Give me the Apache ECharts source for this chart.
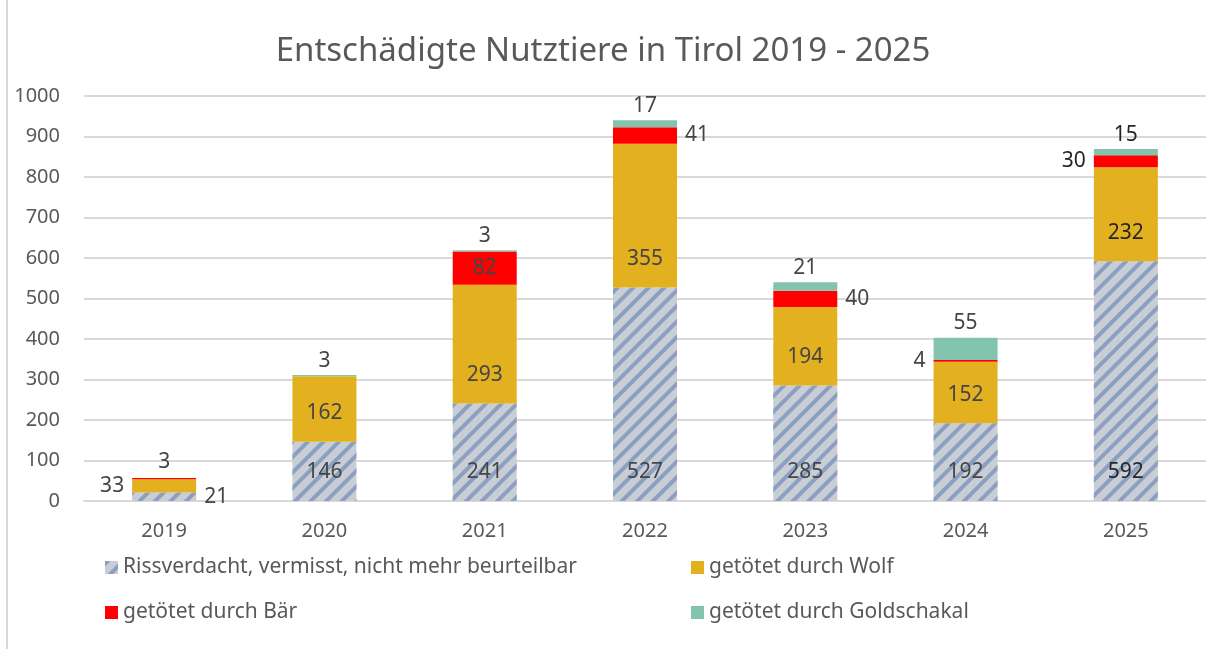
<!DOCTYPE html>
<html>
<head>
<meta charset="utf-8">
<script src="https://cdn.jsdelivr.net/npm/echarts@6/dist/echarts.min.js"></script>
<style>
html, body { margin: 0; padding: 0; background: #fff; }
#chart { width: 1206px; height: 649px; }
</style>
</head>
<body>
<div id="chart"></div>
<script>
// data
var years = ['2019', '2020', '2021', '2022', '2023', '2024', '2025'];
var riss = [21, 146, 241, 527, 285, 192, 592];
var wolf = [33, 162, 293, 355, 194, 152, 232];
var baer = [3, 0, 82, 41, 40, 4, 30];
var schakal = [0, 3, 3, 17, 21, 55, 15];
var seriesNames = [
    'Rissverdacht, vermisst, nicht mehr beurteilbar',
    'getötet durch Wolf',
    'getötet durch Bär',
    'getötet durch Goldschakal'
];

var grey = '#595959';
var font = 'Noto Sans';

// label placement per bar (index = year)
var rissPos = ['right', 'insideBottom', 'insideBottom', 'insideBottom', 'insideBottom', 'insideBottom', 'insideBottom'];
var wolfPos = ['left', 'insideBottom', 'insideBottom', 'insideBottom', 'insideBottom', 'insideBottom', 'insideBottom'];
var baerPos = ['top', null, 'inside', 'right', 'right', 'left', 'left'];

function items(vals, pos, defPos) {
    return vals.map(function (v, i) {
        var p = pos ? pos[i] : defPos;
        var lab = { show: v > 0 && p !== null, position: p };
        if (p === 'insideBottom') lab.distance = 18;
        if (p === 'left' || p === 'right') lab.distance = 8;
        if (i === 6) lab.color = '#262626';
        return { value: v, label: lab };
    });
}

var labelBase = { fontFamily: font, fontSize: 21, color: '#454545' };
var legendText = { fontFamily: font, fontSize: 21, color: grey, lineHeight: 21 };

var chart = echarts.init(document.getElementById('chart'));
chart.setOption({
    animation: false,
    title: {
        text: 'Entschädigte Nutztiere in Tirol 2019 - 2025',
        left: 'center',
        top: 30,
        textStyle: { fontFamily: font, fontWeight: 'normal', fontSize: 33, color: grey }
    },
    graphic: [{
        type: 'line',
        shape: { x1: 7, y1: 0, x2: 7, y2: 649 },
        style: { stroke: '#d9d9d9', lineWidth: 2 }
    }],
    legend: [{
        data: [seriesNames[0], seriesNames[2]],
        orient: 'vertical',
        left: 100,
        top: 552,
        itemWidth: 13,
        itemHeight: 13,
        itemGap: 24,
        icon: 'rect',
        textStyle: legendText
    }, {
        data: [seriesNames[1], seriesNames[3]],
        orient: 'vertical',
        left: 686,
        top: 552,
        itemWidth: 13,
        itemHeight: 13,
        itemGap: 24,
        icon: 'rect',
        textStyle: legendText
    }],
    grid: { left: 84, top: 96, width: 1127, bottom: 148, containLabel: false },
    xAxis: {
        type: 'category',
        data: years,
        axisLine: { lineStyle: { color: '#d9d9d9', width: 2 } },
        axisTick: { show: false },
        axisLabel: { fontFamily: font, fontSize: 20, color: grey, margin: 20 }
    },
    yAxis: {
        type: 'value',
        min: 0,
        max: 1000,
        interval: 100,
        axisLine: { show: false },
        axisTick: { show: false },
        splitLine: { lineStyle: { color: '#d9d9d9', width: 2 } },
        axisLabel: {
            fontFamily: font, fontSize: 20, color: grey, margin: 24,
            formatter: function (v) { return String(v); }
        }
    },
    series: [{
        name: seriesNames[0],
        type: 'bar',
        stack: 'all',
        barWidth: 64,
        itemStyle: {
            color: '#c9ced6',
            decal: {
                symbol: 'rect',
                symbolSize: 1,
                dashArrayX: [1, 0],
                dashArrayY: [4, 7],
                rotation: -Math.PI / 4,
                color: '#8ba0c0'
            }
        },
        label: labelBase,
        data: items(riss, rissPos)
    }, {
        name: seriesNames[1],
        type: 'bar',
        stack: 'all',
        itemStyle: { color: '#e3b11f' },
        label: labelBase,
        data: items(wolf, wolfPos)
    }, {
        name: seriesNames[2],
        type: 'bar',
        stack: 'all',
        itemStyle: { color: '#ff0000' },
        label: labelBase,
        data: items(baer, baerPos)
    }, {
        name: seriesNames[3],
        type: 'bar',
        stack: 'all',
        itemStyle: { color: '#82c4ae' },
        label: Object.assign({}, labelBase, { position: 'top', distance: 4 }),
        data: items(schakal, null, 'top')
    }]
});
</script>
</body>
</html>
